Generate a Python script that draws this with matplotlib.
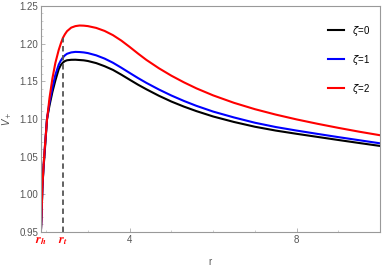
import numpy as np
import matplotlib
matplotlib.use("Agg")
import matplotlib.pyplot as plt
from matplotlib.ticker import MultipleLocator

plt.rcParams['font.family'] = ['Liberation Sans', 'DejaVu Sans']

# values
r_h = 1.873
r_t = 2.395
V_t = 1.207

r = [1.873, 1.885, 1.91, 1.935, 1.96, 2.02, 2.08, 2.15, 2.22, 2.30,
     2.35, 2.40, 2.45, 2.50, 2.60, 2.70, 2.80, 2.90, 3.00, 3.20,
     3.40, 3.60, 3.80, 4.00, 4.20, 4.40, 4.70, 5.00, 5.30, 5.60,
     6.00, 6.50, 7.00, 7.50, 8.00, 8.50, 9.00, 9.50, 10.0]

V_red = [0.950, 0.966, 1.011, 1.036, 1.057, 1.099, 1.128, 1.154, 1.1743, 1.1915,
         1.2000, 1.2075, 1.2125, 1.2165, 1.2212, 1.2232, 1.2240, 1.2238, 1.2232, 1.2208,
         1.2168, 1.2112, 1.2040, 1.1956, 1.1868, 1.1784, 1.1673, 1.1574, 1.1486, 1.1406,
         1.1313, 1.1214, 1.1130, 1.1058, 1.0994, 1.0936, 1.0882, 1.0831, 1.0784]

V_blue = [0.950, 0.966, 1.010, 1.035, 1.056, 1.100, 1.122, 1.1415, 1.1585, 1.172,
          1.1775, 1.1815, 1.1845, 1.1865, 1.1883, 1.1890, 1.1888, 1.1883, 1.1874, 1.1844,
          1.1801, 1.1746, 1.1680, 1.1611, 1.1543, 1.1479, 1.1391, 1.1311, 1.1239, 1.1174,
          1.1098, 1.1020, 1.0950, 1.0893, 1.0846, 1.0802, 1.0759, 1.0718, 1.0677]

V_black = [0.950, 0.966, 1.009, 1.034, 1.052, 1.100, 1.118, 1.136, 1.151, 1.166,
           1.1715, 1.1748, 1.1768, 1.1779, 1.1785, 1.1786, 1.1782, 1.1778, 1.1769, 1.1741,
           1.1700, 1.1651, 1.1588, 1.1521, 1.1455, 1.1394, 1.1308, 1.1231, 1.1164, 1.1104,
           1.1033, 1.0960, 1.0897, 1.0846, 1.0803, 1.0762, 1.0721, 1.0681, 1.0642]

fig = plt.figure(figsize=(3.82, 2.69), dpi=100)
ax = fig.add_axes([0.107, 0.1375, 0.888, 0.8405])

ax.plot(r, V_black, color='black', lw=1.5, label=r'$\zeta$=0')
ax.plot(r, V_blue, color='blue', lw=1.5, label=r'$\zeta$=1')
ax.plot(r, V_red, color='red', lw=1.5, label=r'$\zeta$=2')
ax.plot([r_t, r_t], [0.95, V_t], color='#555555', lw=1.3, ls=(0, (3, 2)))

ax.set_xlim(r_h, 10.0)
ax.set_ylim(0.95, 1.25)

ax.xaxis.set_minor_locator(MultipleLocator(1))
ax.yaxis.set_major_locator(MultipleLocator(0.05))
ax.yaxis.set_minor_locator(MultipleLocator(0.01))
ax.yaxis.set_major_formatter(plt.FormatStrFormatter('%.2f'))

ax.tick_params(axis='both', which='major', direction='in', length=3, width=0.6,
               color='#aaaaaa', labelsize=7, labelcolor='#555555', pad=2)
ax.tick_params(axis='both', which='minor', direction='in', length=1.5, width=0.5,
               color='#bbbbbb')

ax.set_xticks([r_h, r_t, 4, 8])
ax.set_xticklabels([r'$\mathbfit{r}_\mathbfit{h}$', r'$\mathbfit{r}_\mathbfit{t}$', '4', '8'])
for i, lab in enumerate(ax.get_xticklabels()):
    if i < 2:
        lab.set_color('red')
        lab.set_fontsize(9)
        lab.set_math_fontfamily('stix')
    else:
        lab.set_color('#555555')

for s in ax.spines.values():
    s.set_color('#999999')
    s.set_linewidth(0.8)

ax.set_xlabel('r', fontsize=7, color='#555555', labelpad=7)
ax.set_ylabel(r'$V_+$', fontsize=7, color='#555555', labelpad=4)

ax.legend(loc='upper right', frameon=False, fontsize=7, handlelength=1.6,
          labelspacing=1.55, bbox_to_anchor=(0.995, 0.96))

fig.savefig('out.png', dpi=100)
